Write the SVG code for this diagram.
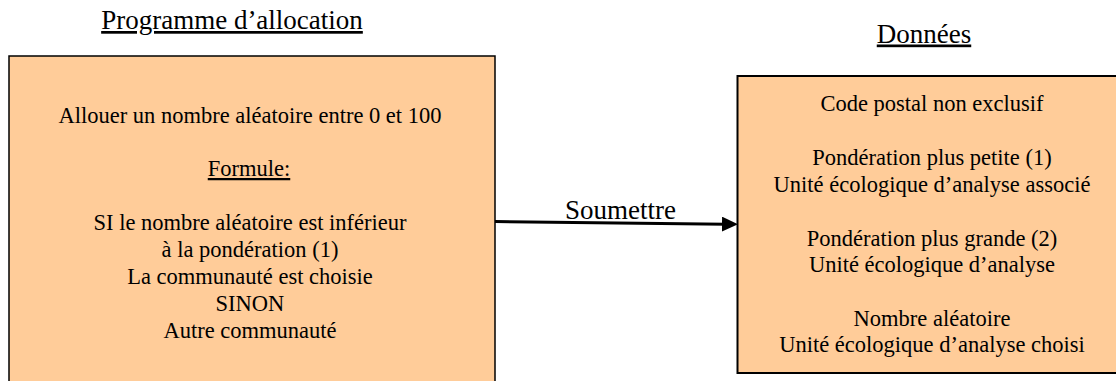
<svg xmlns="http://www.w3.org/2000/svg" width="1116" height="381" viewBox="0 0 1116 381">
  <style>
    .t { fill: #000; text-anchor: middle; }
    .title { font-size: 27px; text-decoration: underline; }
    .body { font-size: 22.5px; }
    .u { text-decoration: underline; }
    .box { fill: #FFCC99; stroke: #000; }
  </style>
  <defs>
    <marker id="arrow" markerUnits="userSpaceOnUse" markerWidth="18" markerHeight="16" refX="4" refY="7.5" orient="auto">
      <path d="M0,0 L16,7.5 L0,15 Z" fill="#000"/>
    </marker>
  </defs>

  <g font-family="'Liberation Serif', 'DejaVu Serif', serif">
  <g id="title-programme">
    <text class="t title" x="232" y="29">Programme d’allocation</text>
  </g>
  <g id="title-donnees">
    <text class="t title" x="924" y="42.5">Données</text>
  </g>

  <g id="node-programme">
    <rect class="box" x="9" y="56" width="486" height="345" stroke-width="1.5"/>
    <text class="t body" x="250" y="122.7">Allouer un nombre aléatoire entre 0 et 100</text>
    <text class="t body u" x="249" y="176">Formule:</text>
    <text class="t body" x="250" y="230">SI le nombre aléatoire est inférieur</text>
    <text class="t body" x="250" y="257">à la pondération (1)</text>
    <text class="t body" x="250" y="284">La communauté est choisie</text>
    <text class="t body" x="250" y="311">SINON</text>
    <text class="t body" x="250" y="338">Autre communauté</text>
  </g>

  <g id="node-donnees">
    <rect class="box" x="737.5" y="76" width="400" height="297" stroke-width="2"/>
    <text class="t body" x="932" y="111">Code postal non exclusif</text>
    <text class="t body" x="932" y="165">Pondération plus petite (1)</text>
    <text class="t body" x="932" y="191.5">Unité écologique d’analyse associé</text>
    <text class="t body" x="932" y="245.5">Pondération plus grande (2)</text>
    <text class="t body" x="932" y="271.5">Unité écologique d’analyse</text>
    <text class="t body" x="932" y="326">Nombre aléatoire</text>
    <text class="t body" x="932" y="352">Unité écologique d’analyse choisi</text>
  </g>

  <g id="connectors">
    <line x1="495" y1="221.5" x2="726" y2="224.2" stroke="#000" stroke-width="3" marker-end="url(#arrow)"/>
    <text class="t" x="620.5" y="219" font-size="27">Soumettre</text>
  </g>
  </g>
</svg>
